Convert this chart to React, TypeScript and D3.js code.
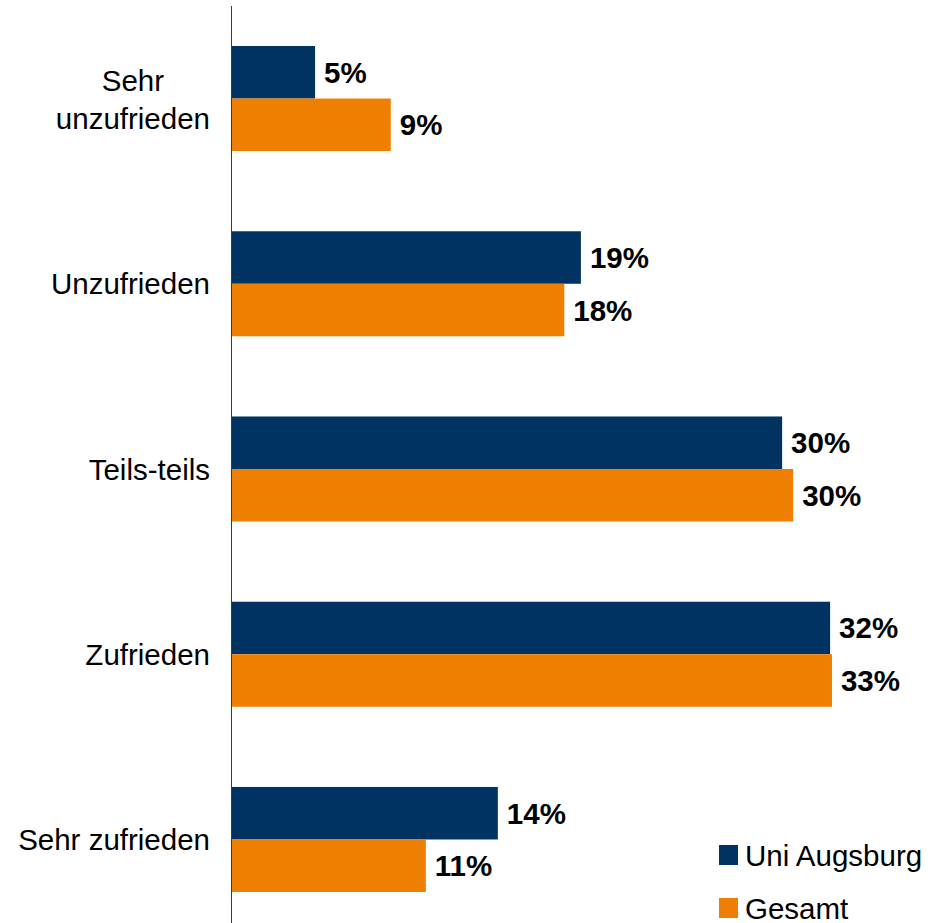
import * as d3 from 'd3'
import { useEffect, useRef } from 'react'

// categories top to bottom, "\n" splits a label onto two lines
const categories = ['Sehr\nunzufrieden', 'Unzufrieden', 'Teils-teils', 'Zufrieden', 'Sehr zufrieden']
const seriesNames = ['Uni Augsburg', 'Gesamt']
const uniAugsburg = [4.5, 18.9, 29.8, 32.4, 14.4]
const gesamt = [8.6, 18.0, 30.4, 32.5, 10.5]
const seriesColors = ['#003361', '#EE7F00']

const width = 940
const height = 923
const font = '"Liberation Sans", Arial, Helvetica, sans-serif'
const fontSize = 29.5

export default function App () {
    const svgRef = useRef<SVGSVGElement>(null)

    useEffect(() => {
        const svg = d3.select(svgRef.current)
        svg.selectAll('*').remove()

        const x = d3.scaleLinear().domain([0, 38]).range([232, 933.5])
        const y = d3.scaleBand().domain(categories).range([6, 932])
            .paddingInner(0.433).paddingOuter(0.216)
        const sub = d3.scaleBand().domain(seriesNames).range([0, y.bandwidth()])

        const rows = categories.map((c, i) => ({
            cat: c,
            values: [
                { name: seriesNames[0], value: uniAugsburg[i] },
                { name: seriesNames[1], value: gesamt[i] },
            ],
        }))
        const color = d3.scaleOrdinal<string, string>().domain(seriesNames).range(seriesColors)

        const groups = svg.selectAll('g.row')
            .data(rows)
            .join('g')
            .attr('class', 'row')
            .attr('transform', d => `translate(0,${y(d.cat)})`)

        groups.selectAll('rect')
            .data(d => d.values)
            .join('rect')
            .attr('x', x(0))
            .attr('y', d => sub(d.name)!)
            .attr('width', d => x(d.value) - x(0))
            .attr('height', sub.bandwidth())
            .attr('fill', d => color(d.name))

        groups.selectAll('text.val')
            .data(d => d.values)
            .join('text')
            .attr('class', 'val')
            .attr('x', d => x(d.value) + 9)
            .attr('y', d => sub(d.name)! + sub.bandwidth() / 2)
            .attr('dominant-baseline', 'central')
            .attr('font-family', font)
            .attr('font-weight', 'bold')
            .attr('font-size', fontSize)
            .attr('fill', '#000')
            .text(d => Math.round(d.value) + '%')

        // category labels, right aligned; multi-line ones centred as a block
        const labelX = 210
        const lineH = 38
        rows.forEach(r => {
            const lines = r.cat.split('\n')
            const cy = y(r.cat)! + y.bandwidth() / 2
            const t = svg.append('text')
                .attr('font-family', font)
                .attr('font-size', fontSize)
                .attr('fill', '#000')
                .attr('dominant-baseline', 'central')
            if (lines.length === 1) {
                t.attr('text-anchor', 'end').attr('x', labelX).attr('y', cy).text(lines[0])
                return
            }
            const spans = t.selectAll('tspan')
                .data(lines)
                .join('tspan')
                .attr('text-anchor', 'middle')
                .attr('x', 0)
                .attr('y', (_, i) => cy + (i - (lines.length - 1) / 2) * lineH)
                .text(d => d)
            const w = (t.node() as SVGTextElement).getBBox().width
            spans.attr('x', labelX - w / 2)
        })

        // axis line
        svg.append('line')
            .attr('x1', 231.5).attr('x2', 231.5)
            .attr('y1', 6).attr('y2', height)
            .attr('stroke', '#3a3a3a')
            .attr('stroke-width', 1)

        // legend
        const legend = svg.selectAll('g.legend')
            .data(seriesNames)
            .join('g')
            .attr('class', 'legend')
            .attr('transform', (_, i) => `translate(719,${845 + i * 53})`)
        legend.append('rect')
            .attr('width', 19).attr('height', 20)
            .attr('fill', d => color(d))
        legend.append('text')
            .attr('x', 26).attr('y', 10)
            .attr('dominant-baseline', 'central')
            .attr('font-family', font)
            .attr('font-size', fontSize)
            .attr('fill', '#000')
            .text(d => d)
    }, [])

    return (
        <svg ref={svgRef} width={width} height={height}
            style={{ position: 'absolute', left: 0, top: 0, background: '#fff' }}></svg>
    )
}
